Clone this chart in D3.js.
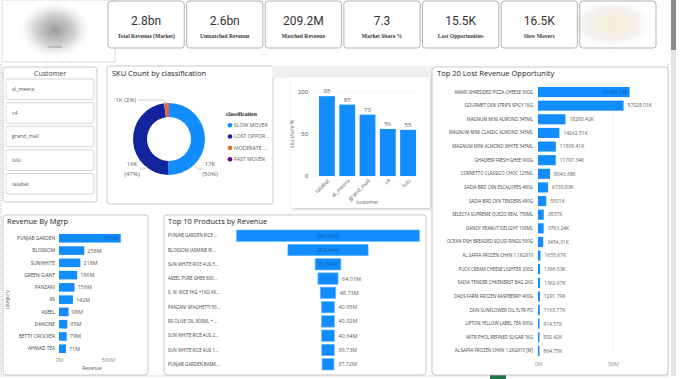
<!DOCTYPE html>
<html>
<head>
<meta charset="utf-8">
<script src="https://cdn.jsdelivr.net/npm/d3@7"></script>
<style>
  body { margin: 0; background: #fff; overflow: hidden; }
  svg { display: block; font-family: "Open Sans", "Noto Sans", sans-serif; }
</style>
</head>
<body>
<div id="chart"></div>
<script>
// ---- data ----
const kpiValues = ["2.8bn", "2.6bn", "209.2M", "7.3", "15.5K", "16.5K"];
const kpiLabels = ["Total Revenue (Market)", "Unmatched Revenue", "Matched Revenue", "Market Share %", "Lost Opportunities", "Slow Movers"];

const customers = ["al_meera", "c4", "grand_mall", "lulu", "talabat"];

const skuClasses = ["SLOW MOVER", "LOST OPPOR...", "MODERATE ...", "FAST MOVER"];
const skuCounts = [16900, 15850, 700, 40];
const skuColors = ["#118DFF", "#12239E", "#E66C37", "#6B007B"];

const shareCustomers = ["talabat", "al_meera", "grand_mall", "c4", "lulu"];
const shareValues = [95, 85, 73, 56, 55];

const mgrpNames = ["PUNJAB GARDEN", "BLOSSOM", "SUNWHITE", "GREEN GIANT", "PANZANI", "RS", "ASEEL", "DANONE", "BETTY CROCKER", "AHMAD TEA"];
const mgrpValues = [630, 258, 218, 186, 158, 142, 98, 85, 79, 71]; // M

const productNames = ["PUNJAB GARDEN RICE ...", "BLOSSOM JASMINE RI...", "SUN WHITE RICE AUS 5...", "ASEEL PURE GHEE 800...", "S. W. RICE 5KG +1KG 6K...",
  "PANZANI SPAGHETTI 50...", "RS OLIVE OIL 800ML + ...", "SUN WHITE RICE AUS 2...", "SUN WHITE RICE AUS 1...", "PUNJAB GARDEN BASM..."];
const productValues = [580.92, 254.64, 81.86, 64.01, 48.73, 40.95, 40.92, 40.64, 39.73, 37.72]; // M

const lostNames = ["AWAFI SHREDDED PIZZA CHEESE 900G", "GOURMET CKN STRIPS SPICY 1KG", "MAGNUM MINI ALMOND 345ML", "MAGNUM MINI CLASSIC ALMOND 345ML",
  "MAGNUM MINI ALMOND WHITE 345ML", "GHADEER FRESH GHEE 900G", "CORNETTO CLASSICO CHOC 125ML", "SADIA BRD CKN ESCALOPES 480G",
  "SADIA BRD CKN TENDERS 480G", "SELECTA SUPREME QUEZO REAL 750ML", "DANDY PEANUT DELIGHT 100ML", "OCEAN FISH BREADED SQUID RINGS 500G",
  "AL SAFFA FROZEN CHKN 1.1KGX10", "PUCK CREAM CHEESE LIGHTER 200G", "SADIA TENDER CHKENBRST BAG 2KG", "DADS FARM FROZEN RASPBERRY 400G",
  "ZAIN SUNFLOWER OIL 5LTR PO", "LIPTON YELLOW LABEL TEA 900G", "MITR PHOL REFINED SUGAR 1KG", "AL SAFFA FROZEN CHKN 1.2KGX10 [M]"];
const lostValues = [61050.14, 57028.01, 18293.42, 14262.51, 11909.41, 11797.34, 8043.38, 6730.83, 5501, 3837,
  3763.24, 3454.31, 1655.67, 1396.53, 1362.67, 1291.79, 1163.77, 914.57, 892.42, 864.75]; // K

const W = 680, H = 379;
const blue = "#118DFF", txt = "#252423", sub = "#605E5C";

const svg = d3.select("#chart").append("svg")
    .attr("width", W).attr("height", H)
    .attr("viewBox", [0, 0, W, H]);

const defs = svg.append("defs");
const blurL = defs.append("radialGradient").attr("id", "blobL");
blurL.append("stop").attr("offset", "0%").attr("stop-color", "#9a9a9a");
blurL.append("stop").attr("offset", "55%").attr("stop-color", "#d6d6d6");
blurL.append("stop").attr("offset", "100%").attr("stop-color", "#fff").attr("stop-opacity", 0);
const blurR = defs.append("radialGradient").attr("id", "blobR");
blurR.append("stop").attr("offset", "0%").attr("stop-color", "#f6edd6");
blurR.append("stop").attr("offset", "60%").attr("stop-color", "#f3f1ee");
blurR.append("stop").attr("offset", "100%").attr("stop-color", "#fff").attr("stop-opacity", 0);
const shadow = defs.append("filter").attr("id", "shadow").attr("x", "-10%").attr("y", "-10%").attr("width", "130%").attr("height", "130%");
shadow.append("feDropShadow").attr("dx", 1).attr("dy", 1).attr("stdDeviation", 1.5).attr("flood-color", "#000").attr("flood-opacity", 0.25);

function panel(x, y, w, h, title, tx, ty) {
    svg.append("rect").attr("x", x).attr("y", y).attr("width", w).attr("height", h)
        .attr("rx", 3).attr("fill", "#fff").attr("stroke", "#BEBBB8").attr("stroke-width", 0.8);
    if (title) svg.append("text").attr("x", tx).attr("y", ty).attr("fill", txt)
        .attr("font-size", 7.5).text(title);
}

// ---- page frame (dotted canvas edges) ----
const dotted = svg.append("g").attr("stroke", "#9c9c9c").attr("stroke-width", 0.7).attr("stroke-dasharray", "1,1").attr("fill", "none");
dotted.append("rect").attr("x", 2).attr("y", 0).attr("width", 113).attr("height", 62);
dotted.append("line").attr("x1", 1).attr("x2", 1).attr("y1", 64).attr("y2", 376);
dotted.append("line").attr("x1", 1).attr("x2", 668).attr("y1", 376).attr("y2", 376);
dotted.append("line").attr("x1", 668).attr("x2", 668).attr("y1", 64).attr("y2", 376);

// blurred logos
svg.append("ellipse").attr("cx", 55).attr("cy", 30).attr("rx", 38).attr("ry", 30).attr("fill", "url(#blobL)");
svg.append("rect").attr("x", 48).attr("y", 46).attr("width", 14).attr("height", 2).attr("fill", "#bbb");
svg.append("ellipse").attr("cx", 612).attr("cy", 24).attr("rx", 45).attr("ry", 26).attr("fill", "url(#blobR)");

// scrollbar
svg.append("rect").attr("x", 671).attr("y", 0).attr("width", 5).attr("height", 376).attr("fill", "#e4e4e4");
svg.append("rect").attr("x", 671).attr("y", 0).attr("width", 5).attr("height", 50).attr("fill", "#8a8a8a");
svg.append("rect").attr("x", 490).attr("y", 373).attr("width", 16).attr("height", 6).attr("fill", "#217346");

// ---- KPI cards ----
const kpiX = d3.scaleBand().domain(d3.range(7)).range([108, 656]).paddingInner(0.03);
const kpi = svg.append("g").selectAll("g").data(d3.range(7)).join("g")
    .attr("transform", i => `translate(${kpiX(i)},1)`);
kpi.append("rect").attr("width", kpiX.bandwidth()).attr("height", 47).attr("rx", 3)
    .attr("fill", i => i === 6 ? "none" : "#fff").attr("stroke", "#A19F9D").attr("stroke-width", 0.8);
kpi.filter(i => i < 6).append("text").attr("x", kpiX.bandwidth() / 2).attr("y", 24)
    .attr("text-anchor", "middle").attr("font-size", 12).attr("fill", "#333").attr("font-family", "Roboto, sans-serif")
    .text(i => kpiValues[i]);
kpi.filter(i => i < 6).append("text").attr("x", kpiX.bandwidth() / 2).attr("y", 37)
    .attr("text-anchor", "middle").attr("font-size", 5.6).attr("font-weight", "bold").attr("fill", "#3b3a39")
    .attr("font-family", "'Liberation Serif', serif")
    .text(i => kpiLabels[i]);

// ---- Customer slicer ----
panel(3, 67, 94, 135, null);
svg.append("text").attr("x", 50).attr("y", 76).attr("text-anchor", "middle").attr("font-size", 7).attr("fill", "#444").text("Customer");
const custY = d3.scaleBand().domain(customers).range([79, 194]).paddingInner(0.13);
const cust = svg.append("g").selectAll("g").data(customers).join("g")
    .attr("transform", d => `translate(6,${custY(d)})`);
cust.append("rect").attr("width", 88).attr("height", custY.bandwidth()).attr("rx", 2)
    .attr("fill", "#fff").attr("stroke", "#C8C6C4").attr("stroke-width", 0.7);
cust.append("text").attr("x", 6).attr("y", custY.bandwidth() / 2 + 2).attr("font-size", 5.2).attr("fill", "#555").text(d => d);

// ---- SKU donut ----
panel(107, 66, 166, 138, "SKU Count by classification", 112, 76);
const total = d3.sum(skuCounts);
const pie = d3.pie().sort(null).value(d => d)(skuCounts);
const arc = d3.arc().innerRadius(22).outerRadius(36);
const donut = svg.append("g").attr("transform", "translate(169,139)");
donut.selectAll("path").data(pie).join("path").attr("d", arc).attr("fill", (d, i) => skuColors[i]);
const fmtK = v => Math.round(v / 1000) + "K";
const pct = v => Math.round(v / total * 100) + "%";
// labels
const lblG = svg.append("g").attr("font-size", 6).attr("fill", sub);
lblG.append("text").attr("x", 136).attr("y", 102).attr("text-anchor", "end").text(`${fmtK(skuCounts[2])} (${pct(skuCounts[2])})`);
lblG.append("path").attr("d", "M138,100 L164,100 L166,103").attr("stroke", "#aaa").attr("fill", "none").attr("stroke-width", 0.6);
lblG.append("text").attr("x", 132).attr("y", 166).attr("text-anchor", "middle").text(fmtK(skuCounts[1]));
lblG.append("text").attr("x", 132).attr("y", 176).attr("text-anchor", "middle").text(`(${pct(skuCounts[1])})`);
lblG.append("path").attr("d", "M140,169 L144,169 L147,166").attr("stroke", "#aaa").attr("fill", "none").attr("stroke-width", 0.6);
lblG.append("text").attr("x", 210).attr("y", 166).attr("text-anchor", "middle").text(fmtK(skuCounts[0]));
lblG.append("text").attr("x", 210).attr("y", 176).attr("text-anchor", "middle").text(`(${pct(skuCounts[0])})`);
lblG.append("path").attr("d", "M203,169 L198,169 L195,166").attr("stroke", "#aaa").attr("fill", "none").attr("stroke-width", 0.6);
// legend
const leg = svg.append("g").attr("transform", "translate(226,116)");
leg.append("text").attr("font-size", 5.6).attr("font-weight", "bold").attr("fill", txt)
    .attr("font-family", "'Liberation Serif', serif").text("classification");
const legY = d3.scalePoint().domain(skuClasses).range([11, 45]);
const li = leg.selectAll("g").data(skuClasses).join("g").attr("transform", d => `translate(4,${legY(d)})`);
li.append("circle").attr("r", 2.3).attr("cy", -1.8).attr("fill", (d, i) => skuColors[i]);
li.append("text").attr("x", 4).attr("font-size", 5.2).attr("fill", sub).text(d => d);

// ---- % share bar chart (floating card) ----
svg.append("rect").attr("x", 272).attr("y", 66).attr("width", 160).attr("height", 12).attr("fill", "#f1f1f1");
svg.append("rect").attr("x", 291).attr("y", 77).attr("width", 139).attr("height", 131).attr("fill", "#fff").attr("filter", "url(#shadow)");
const sx = d3.scaleBand().domain(shareCustomers).range([317, 418]).paddingInner(0.22).paddingOuter(0.1);
const sy = d3.scaleLinear().domain([0, 100]).range([176, 92]);
const sg = svg.append("g");
sg.append("g").attr("transform", "translate(312,0)")
    .call(d3.axisLeft(sy).tickValues([0, 50, 100]).tickSize(-106).tickPadding(4))
    .call(g => g.select(".domain").remove())
    .call(g => g.selectAll("line").attr("stroke", "#eee").attr("stroke-width", 0.5))
    .call(g => g.selectAll("text").attr("font-size", 6).attr("fill", sub).attr("font-family", "inherit"));
sg.selectAll("rect.b").data(shareValues).join("rect").attr("class", "b")
    .attr("x", (d, i) => sx(shareCustomers[i])).attr("width", sx.bandwidth())
    .attr("y", d => sy(d)).attr("height", d => sy(0) - sy(d)).attr("fill", blue);
sg.selectAll("text.v").data(shareValues).join("text").attr("class", "v")
    .attr("x", (d, i) => sx(shareCustomers[i]) + sx.bandwidth() / 2).attr("y", d => sy(d) - 3)
    .attr("text-anchor", "middle").attr("font-size", 6).attr("fill", sub).text(d => d);
sg.selectAll("text.c").data(shareCustomers).join("text").attr("class", "c")
    .attr("transform", d => `translate(${sx(d) + sx.bandwidth() / 2 + 3},181) rotate(-45)`)
    .attr("text-anchor", "end").attr("font-size", 5.5).attr("fill", sub).text(d => d);
sg.append("text").attr("x", 367).attr("y", 204).attr("text-anchor", "middle").attr("font-size", 5).attr("fill", sub).text("customer");
sg.append("text").attr("transform", "translate(294,134) rotate(-90)").attr("text-anchor", "middle")
    .attr("font-size", 5).attr("fill", sub).text("sku share %");

// ---- Top 20 Lost Revenue ----
panel(432, 67, 236, 308, "Top 20 Lost Revenue Opportunity", 437, 76);
const lx = d3.scaleLinear().domain([0, 50000]).range([538, 613]);
const ly = d3.scaleBand().domain(lostNames).range([87, 356]).paddingInner(0.26);
const lg = svg.append("g");
lg.selectAll("line.g").data([0, 50000]).join("line").attr("class", "g")
    .attr("x1", d => lx(d)).attr("x2", d => lx(d)).attr("y1", 86).attr("y2", 357)
    .attr("stroke", "#eee").attr("stroke-width", 0.6);
lg.selectAll("rect").data(lostValues).join("rect")
    .attr("x", lx(0)).attr("y", (d, i) => ly(lostNames[i]))
    .attr("width", d => Math.max(1.5, lx(d) - lx(0))).attr("height", ly.bandwidth()).attr("fill", blue);
lg.selectAll("text.n").data(lostNames).join("text").attr("class", "n")
    .attr("x", 533).attr("y", d => ly(d) + ly.bandwidth() / 2 + 1.5)
    .attr("text-anchor", "end").attr("font-size", 4.4).attr("fill", "#444").text(d => d);
lg.selectAll("text.v").data(lostValues).join("text").attr("class", "v")
    .attr("x", (d, i) => i === 0 ? lx(d) - 2 : lx(d) + 4)
    .attr("text-anchor", (d, i) => i === 0 ? "end" : "start")
    .attr("y", (d, i) => ly(lostNames[i]) + ly.bandwidth() / 2 + 1.8)
    .attr("font-size", 5).attr("fill", (d, i) => i === 0 ? "#0b5cad" : sub)
    .text(d => d3.format(".2~f")(d) + "K");
lg.append("g").attr("transform", "translate(0,359)")
    .call(d3.axisBottom(lx).tickValues([0, 50000]).tickSize(0).tickFormat(d => d / 1000 + "M"))
    .call(g => g.select(".domain").remove())
    .call(g => g.selectAll("text").attr("font-size", 5.5).attr("fill", "#999").attr("font-family", "inherit"));

// ---- Revenue By Mgrp ----
panel(3, 215, 145, 160, "Revenue By Mgrp", 7, 224);
const mx = d3.scaleLinear().domain([0, 500]).range([59, 108]);
const my = d3.scaleBand().domain(mgrpNames).range([234, 353]).paddingInner(0.3);
const mg = svg.append("g");
mg.selectAll("rect").data(mgrpValues).join("rect")
    .attr("x", mx(0)).attr("y", (d, i) => my(mgrpNames[i]))
    .attr("width", d => mx(d) - mx(0)).attr("height", my.bandwidth()).attr("fill", blue);
mg.selectAll("text.n").data(mgrpNames).join("text").attr("class", "n")
    .attr("x", 55).attr("y", d => my(d) + my.bandwidth() / 2 + 1.7)
    .attr("text-anchor", "end").attr("font-size", 4.8).attr("fill", "#444").text(d => d);
mg.selectAll("text.v").data(mgrpValues).join("text").attr("class", "v")
    .attr("x", (d, i) => i === 0 ? mx(d) - 2 : mx(d) + 3)
    .attr("text-anchor", (d, i) => i === 0 ? "end" : "start")
    .attr("y", (d, i) => my(mgrpNames[i]) + my.bandwidth() / 2 + 2)
    .attr("font-size", 5.5).attr("fill", (d, i) => i === 0 ? "#0b5cad" : sub).text(d => d + "M");
mg.append("g").attr("transform", "translate(0,355)")
    .call(d3.axisBottom(mx).tickValues([0, 500]).tickSize(0).tickFormat(d => d + "M"))
    .call(g => g.select(".domain").remove())
    .call(g => g.selectAll("text").attr("font-size", 5.5).attr("fill", "#999").attr("font-family", "inherit"));
mg.append("text").attr("x", 92).attr("y", 370).attr("text-anchor", "middle").attr("font-size", 4.8).attr("fill", "#555").text("Revenue");
mg.append("text").attr("transform", "translate(9,300) rotate(-90)").attr("text-anchor", "middle")
    .attr("font-size", 4.8).attr("fill", "#555").text("category");

// ---- Top 10 Products (funnel) ----
panel(164, 215, 262, 160, "Top 10 Products by Revenue", 168, 224);
const fx = d3.scaleLinear().domain([0, d3.max(productValues)]).range([0, 183]);
const fy = d3.scaleBand().domain(productNames).range([230, 370]).paddingInner(0.2);
const fc = 328;
const fg = svg.append("g");
fg.selectAll("rect").data(productValues).join("rect")
    .attr("x", d => fc - fx(d) / 2).attr("y", (d, i) => fy(productNames[i]))
    .attr("width", d => fx(d)).attr("height", fy.bandwidth())
    .attr("fill", blue).attr("stroke", "#6cb8ff").attr("stroke-width", 0.6);
fg.selectAll("text.n").data(productNames).join("text").attr("class", "n")
    .attr("x", 168).attr("y", d => fy(d) + fy.bandwidth() / 2 + 1.5)
    .attr("font-size", 4.4).attr("fill", "#444").text(d => d);
fg.selectAll("text.v").data(productValues).join("text").attr("class", "v")
    .attr("x", (d, i) => i < 3 ? fc : fc + fx(d) / 2 + 4)
    .attr("text-anchor", (d, i) => i < 3 ? "middle" : "start")
    .attr("y", (d, i) => fy(productNames[i]) + fy.bandwidth() / 2 + 2)
    .attr("font-size", 5.5).attr("fill", (d, i) => i < 3 ? "#0b5cad" : sub)
    .text(d => d3.format(".2f")(d) + "M");
</script>
</body>
</html>
